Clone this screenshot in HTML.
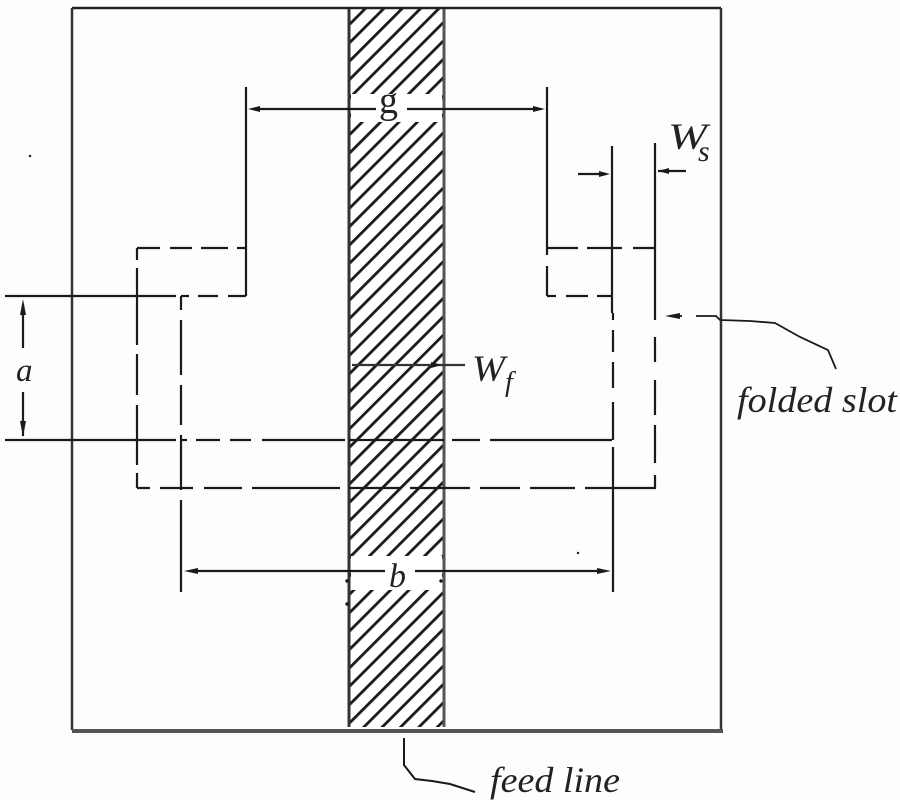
<!DOCTYPE html>
<html>
<head>
<meta charset="utf-8">
<style>
html,body{margin:0;padding:0;background:#fdfdfd;width:900px;height:800px;overflow:hidden}
svg{display:block}
text{font-family:"Liberation Serif",serif;font-style:italic;fill:#222}
</style>
</head>
<body>
<svg width="900" height="800" viewBox="0 0 900 800" xmlns="http://www.w3.org/2000/svg">
<defs>
<pattern id="h" patternUnits="userSpaceOnUse" width="13" height="13" patternTransform="rotate(45) translate(3,0)">
<rect x="0" y="0" width="2.8" height="13" fill="#1a1a1a"/>
</pattern>
</defs>
<rect width="900" height="800" fill="#fdfdfd"/>

<!-- hatched feed -->
<rect x="349" y="9" width="95" height="718" fill="#fff"/>
<rect x="349" y="9" width="95" height="718" fill="url(#h)"/>
<rect x="351" y="94" width="91" height="28" fill="#fff"/>
<rect x="351" y="556" width="91" height="34" fill="#fff"/>
<line x1="349" y1="8" x2="349" y2="727" stroke="#333" stroke-width="3"/>
<line x1="444" y1="8" x2="444" y2="727" stroke="#555" stroke-width="3"/>

<!-- frame -->
<line x1="72" y1="8" x2="721" y2="8" stroke="#222" stroke-width="2.5"/>
<line x1="72" y1="8" x2="72" y2="730" stroke="#333" stroke-width="2.5"/>
<line x1="721" y1="8" x2="721" y2="730" stroke="#333" stroke-width="2.5"/>
<line x1="72" y1="731" x2="723" y2="731" stroke="#555" stroke-width="4"/>

<g stroke="#1a1a1a" stroke-width="2.2" fill="none">
<!-- g dimension -->
<line x1="246" y1="87" x2="246" y2="296"/>
<line x1="547" y1="87" x2="547" y2="255"/>
<line x1="547" y1="266" x2="547" y2="296"/>
<line x1="256" y1="109" x2="376" y2="109"/>
<line x1="407" y1="109" x2="540" y2="109"/>
<!-- left dashed -->
<path d="M137 248H160M170 248H192M201 248H228M237 248H246"/>
<path d="M137 248V260M137 268V345M137 354V395M137 405V465M137 473V488"/>
<line x1="5" y1="296" x2="176" y2="296"/>
<path d="M181 296H189M198 296H218M228 296H246"/>
<path d="M181 296V310M181 320V375M181 385V425M181 435V490M181 500V592"/>
<!-- a lines -->
<line x1="5" y1="440" x2="176" y2="440"/>
<path d="M181 440H187M196 440H220M230 440H251M262 440H345M349 440H444M452 440H480M490 440H612"/>
<path d="M137 488H150M160 488H193M204 488H242M252 488H340M349 488H400M410 488H470M480 488H520M530 488H575M585 488H656"/>
<!-- right dashed -->
<path d="M547 248H578M587 248H622M633 248H655"/>
<path d="M547 296H556M566 296H588M597 296H612"/>
<line x1="612" y1="146" x2="612" y2="313"/>
<path d="M613 313V320M613 330V352M613 362V388M613 402V440M613 447V592"/>
<line x1="655" y1="143" x2="655" y2="320"/>
<path d="M655 337V362M655 380V415M655 425V463M655 475V488"/>
<!-- b -->
<line x1="195" y1="571" x2="385" y2="571"/>
<line x1="415" y1="571" x2="605" y2="571"/>
<!-- ws -->
<line x1="578" y1="174" x2="606" y2="174"/>
<line x1="658" y1="171" x2="686" y2="171"/>
<!-- a arrows -->
<line x1="23" y1="304" x2="23" y2="348"/>
<line x1="23" y1="392" x2="23" y2="436"/>
<!-- wf -->
<line x1="352" y1="365" x2="465" y2="365" stroke="#333"/>
<!-- leaders -->
<path d="M672 316H682M696 316H716L720 320L750 321L775 323L800 337L828 350L836 369" stroke-width="1.8"/>
<path d="M404 738V765L415 779L432 781L450 784L475 792" stroke-width="2"/>
</g>

<!-- arrowheads -->
<g fill="#1a1a1a">
<path d="M248 109L260 106V112Z"/>
<path d="M545 109L533 106V112Z"/>
<path d="M610 174L599 171V177Z"/>
<path d="M658 171L669 168V174Z"/>
<path d="M23 299L20 315H26Z"/>
<path d="M23 437L20 421H26Z"/>
<path d="M184 571L198 568V574Z"/>
<path d="M611 571L597 568V574Z"/>
<path d="M665 316L680 313V319Z"/>
<path d="M442 365L431 362V368Z"/>
<circle cx="347" cy="581" r="1.7"/>
<circle cx="347" cy="604" r="1.7"/>
<circle cx="441" cy="581" r="1.7"/>
<circle cx="578" cy="553" r="1.2"/>
<circle cx="30" cy="156" r="1.2"/>
</g>

<!-- labels -->
<text x="379" y="113" font-size="38" style="font-style:normal">g</text>
<text x="16" y="381" font-size="33">a</text>
<text x="389" y="587" font-size="34">b</text>
<text x="668" y="149" font-size="37" textLength="39" lengthAdjust="spacingAndGlyphs">W</text>
<text x="698" y="161" font-size="30">s</text>
<text x="472" y="381" font-size="37" textLength="33" lengthAdjust="spacingAndGlyphs">W</text>
<text x="505" y="391" font-size="28">f</text>
<text x="737" y="412" font-size="36" textLength="160" lengthAdjust="spacingAndGlyphs">folded slot</text>
<text x="490" y="792" font-size="36" textLength="130" lengthAdjust="spacingAndGlyphs">feed line</text>
</svg>
</body>
</html>
